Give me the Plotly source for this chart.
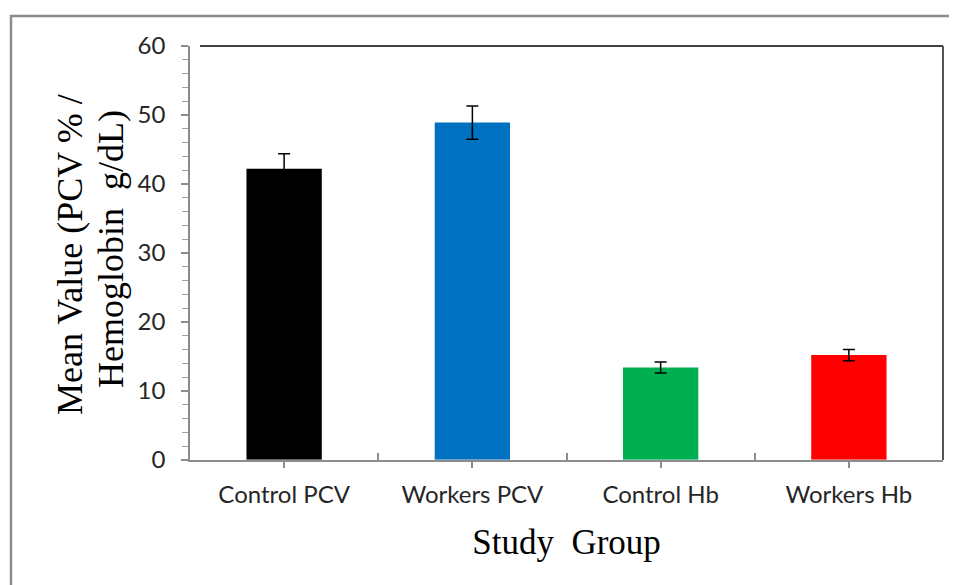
import plotly.graph_objects as go

categories = ["Control PCV", "Workers PCV", "Control Hb", "Workers Hb"]
means = [42.2, 48.9, 13.4, 15.2]
errors = [2.2, 2.4, 0.8, 0.8]
colors = ["#000000", "#0070C0", "#00B050", "#FF0000"]
y_ticks = [0, 10, 20, 30, 40, 50, 60]
y_title_lines = ["Mean Value (PCV % /", "Hemoglobin\u00a0 g/dL)"]
x_title = "Study\u00a0 Group"

fig = go.Figure()
fig.add_trace(go.Bar(
    x=categories, y=means, width=0.4,
    marker=dict(color=colors, line=dict(width=0)),
    error_y=dict(type="data", array=errors, visible=True, color="black",
                 thickness=1.5, width=6),
    showlegend=False,
))
fig.add_trace(go.Bar(x=categories, y=[0]*4, xaxis="x2", showlegend=False,
                     marker=dict(color="rgba(0,0,0,0)"), hoverinfo="skip"))

OFF = 8  # page body margin
W, H = 957 - OFF, 585 - OFF
L, R, T, B = 190 - OFF, 943 - OFF, 46 - OFF, 460 - OFF
SERIF = "Liberation Serif, Times New Roman, serif"
SANS = "Lato, Open Sans, sans-serif"
fig.update_layout(
    width=W, height=H,
    margin=dict(l=L, r=W - R, t=T, b=H - B, pad=0),
    plot_bgcolor="white", paper_bgcolor="white",
    font=dict(family=SANS, color="#222"),
    xaxis=dict(
        type="category", showline=True, linecolor="#8c8c8c", linewidth=1.5,
        ticks="outside", ticklen=6, tickcolor="#8c8c8c", tickwidth=1.5,
        tickfont=dict(size=24, family=SANS, color="#262626"),
        ticklabelstandoff=6,
        title=dict(text=x_title, standoff=23,
                   font=dict(family=SERIF, size=35, color="black")),
        showgrid=False, range=[-0.5, 3.5],
    ),
    xaxis2=dict(
        type="category", overlaying="x", side="bottom", tickson="boundaries",
        ticks="inside", ticklen=7, tickcolor="#8c8c8c", tickwidth=1.5,
        showticklabels=False, showgrid=False, showline=False, range=[-0.5, 3.5],
        matches="x",
    ),
    yaxis=dict(
        range=[0, 60], tickvals=y_ticks, showline=True, linecolor="#8c8c8c",
        linewidth=1.5, ticks="outside", ticklen=7, tickcolor="#8c8c8c", tickwidth=1.5,
        minor=dict(dtick=2, ticks="outside", ticklen=6, tickcolor="#a0a0a0", tickwidth=1),
        tickfont=dict(size=24, family=SANS, color="#262626"),
        ticklabelstandoff=11,
        showgrid=False, zeroline=False,
    ),
    bargap=0.6,
)

pw, ph = R - L, B - T
def px(x): return (x - OFF - L) / pw
def py(y): return (B - (y - OFF)) / ph

shapes = [
    dict(type="rect", xref="paper", yref="paper", x0=px(11), x1=px(965), y0=py(600), y1=py(16),
         line=dict(color="#8c8c8c", width=2.5), layer="below"),
    dict(type="line", xref="paper", yref="paper", x0=px(200), x1=1, y0=1, y1=1,
         line=dict(color="black", width=1.5)),
    dict(type="line", xref="paper", yref="paper", x0=1, x1=1, y0=0, y1=1,
         line=dict(color="#555555", width=2)),
]
fig.update_layout(shapes=shapes)

for txt, cx, cy in zip(y_title_lines, [70, 111], [255, 249]):
    fig.add_annotation(text=txt, textangle=-90, xref="paper", yref="paper",
                       x=px(cx), y=py(cy), xanchor="center", yanchor="middle",
                       showarrow=False, font=dict(family=SERIF, size=36, color="black"))

fig.write_html("out.html")
